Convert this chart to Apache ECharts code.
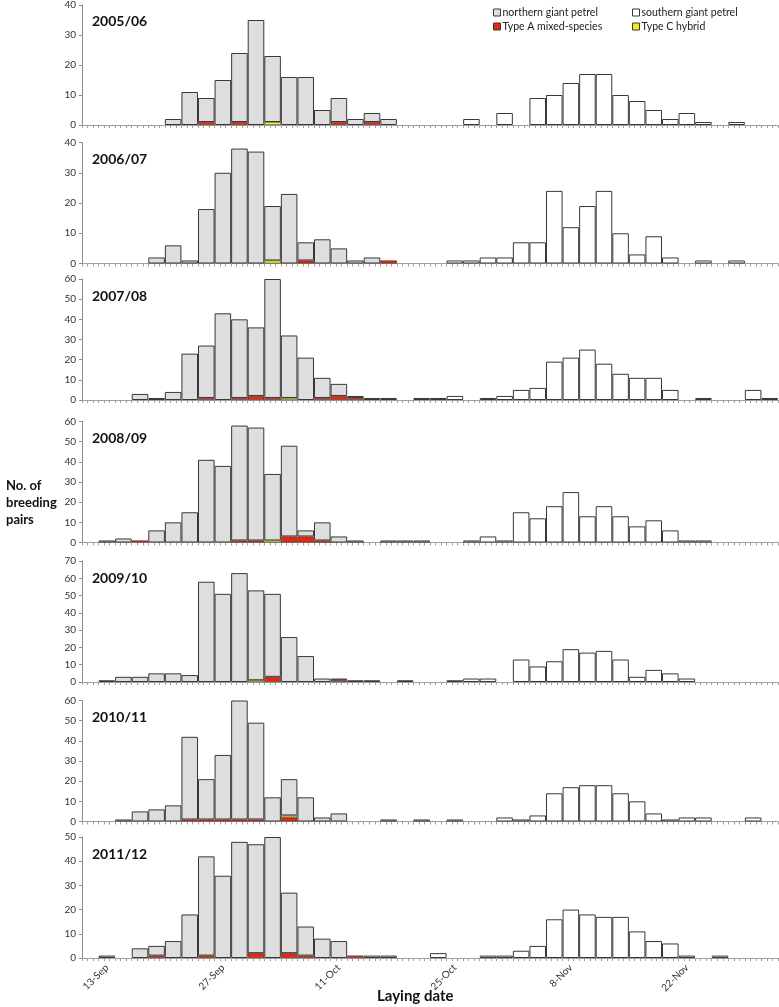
<!DOCTYPE html>
<html>
<head>
<meta charset="utf-8">
<title>Giant petrel laying dates</title>
<script src="https://cdn.jsdelivr.net/npm/echarts@6.0.0/dist/echarts.min.js"></script>
<style>
  html, body { margin: 0; padding: 0; background: #fff; }
  #chart { width: 779px; height: 1007px; }
</style>
</head>
<body>
<div id="chart"></div>
<script>
// Laying date histograms, two-day bins starting 11-Sep (bin 1 = 13-Sep)
// -----------------------------------------
const SEASONS = ['2005/06', '2006/07', '2007/08', '2008/09', '2009/10', '2010/11', '2011/12'];
const Y_MAX = [40, 40, 60, 60, 70, 60, 50];
const DATE_LABELS = ['13-Sep', '27-Sep', '11-Oct', '25-Oct', '8-Nov', '22-Nov'];
const BIN_COUNT = 42;

// northern giant petrel (grey part of the bar)
const ngp0506 = [0,0,0,0,0,2,11, 8,15,23,35,22,16,16, 5,8,2,3,2,0,0, 0,0,0,0,0,0,0, 0,0,0,0,0,0,0, 0,0,0,0,0,0,0];
const ngp0607 = [0,0,0,0,2,6,1, 18,30,38,37,18,23,6, 8,5,1,2,0,0,0, 0,0,0,0,0,0,0, 0,0,0,0,0,0,0, 0,0,0,0,0,0,0];
const ngp0708 = [0,0,0,3,1,4,23, 26,43,39,34,59,31,21, 10,6,1,1,1,0,1, 1,0,0,0,0,0,0, 0,0,0,0,0,0,0, 0,0,0,0,0,0,0];
const ngp0809 = [0,1,2,0,6,10,15, 41,38,57,56,33,45,3, 9,3,1,0,1,1,1, 0,0,0,0,0,0,0, 0,0,0,0,0,0,0, 0,0,0,0,0,0,0];
const ngp0910 = [0,1,3,3,5,5,4, 58,51,63,52,48,26,15, 2,1,1,1,0,1,0, 0,0,0,0,0,0,0, 0,0,0,0,0,0,0, 0,0,0,0,0,0,0];
const ngp1011 = [0,0,1,5,6,8,41, 20,32,59,48,12,18,12, 2,4,0,0,1,0,1, 0,1,0,0,0,0,0, 0,0,0,0,0,0,0, 0,0,0,0,0,0,0];
const ngp1112 = [0,1,0,4,4,7,18, 41,34,48,45,50,25,12, 8,7,0,1,1,0,0, 0,0,0,0,0,0,0, 0,0,0,0,0,0,0, 0,0,0,0,0,0,0];

// Type A mixed-species pairs
const mixA0506 = [0,0,0,0,0,0,0, 1,0,1,0,0,0,0, 0,1,0,1,0,0,0, 0,0,0,0,0,0,0, 0,0,0,0,0,0,0, 0,0,0,0,0,0,0];
const mixA0607 = [0,0,0,0,0,0,0, 0,0,0,0,0,0,1, 0,0,0,0,1,0,0, 0,0,0,0,0,0,0, 0,0,0,0,0,0,0, 0,0,0,0,0,0,0];
const mixA0708 = [0,0,0,0,0,0,0, 1,0,1,2,1,0,0, 1,2,1,0,0,0,0, 0,0,0,0,0,0,0, 0,0,0,0,0,0,0, 0,0,0,0,0,0,0];
const mixA0809 = [0,0,0,1,0,0,0, 0,0,1,1,0,3,3, 1,0,0,0,0,0,0, 0,0,0,0,0,0,0, 0,0,0,0,0,0,0, 0,0,0,0,0,0,0];
const mixA0910 = [0,0,0,0,0,0,0, 0,0,0,0,3,0,0, 0,1,0,0,0,0,0, 0,0,0,0,0,0,0, 0,0,0,0,0,0,0, 0,0,0,0,0,0,0];
const mixA1011 = [0,0,0,0,0,0,1, 1,1,1,1,0,2,0, 0,0,0,0,0,0,0, 0,0,0,0,0,0,0, 0,0,0,0,0,0,0, 0,0,0,0,0,0,0];
const mixA1112 = [0,0,0,0,1,0,0, 1,0,0,2,0,2,1, 0,0,1,0,0,0,0, 0,0,0,0,0,0,0, 0,0,0,0,0,0,0, 0,0,0,0,0,0,0];

// Type C hybrids
const hybC0506 = [0,0,0,0,0,0,0, 0,0,0,0,1,0,0, 0,0,0,0,0,0,0, 0,0,0,0,0,0,0, 0,0,0,0,0,0,0, 0,0,0,0,0,0,0];
const hybC0607 = [0,0,0,0,0,0,0, 0,0,0,0,1,0,0, 0,0,0,0,0,0,0, 0,0,0,0,0,0,0, 0,0,0,0,0,0,0, 0,0,0,0,0,0,0];
const hybC0708 = [0,0,0,0,0,0,0, 0,0,0,0,0,1,0, 0,0,0,0,0,0,0, 0,0,0,0,0,0,0, 0,0,0,0,0,0,0, 0,0,0,0,0,0,0];
const hybC0809 = [0,0,0,0,0,0,0, 0,0,0,0,1,0,0, 0,0,0,0,0,0,0, 0,0,0,0,0,0,0, 0,0,0,0,0,0,0, 0,0,0,0,0,0,0];
const hybC0910 = [0,0,0,0,0,0,0, 0,0,0,1,0,0,0, 0,0,0,0,0,0,0, 0,0,0,0,0,0,0, 0,0,0,0,0,0,0, 0,0,0,0,0,0,0];
const hybC1011 = [0,0,0,0,0,0,0, 0,0,0,0,0,1,0, 0,0,0,0,0,0,0, 0,0,0,0,0,0,0, 0,0,0,0,0,0,0, 0,0,0,0,0,0,0];
const hybC1112 = [0,0,0,0,0,0,0, 0,0,0,0,0,0,0, 0,0,0,0,0,0,0, 0,0,0,0,0,0,0, 0,0,0,0,0,0,0, 0,0,0,0,0,0,0];

// southern giant petrel (white bars)
const sgp0506 = [0,0,0,0,0,0,0, 0,0,0,0,0,0,0, 0,0,0,0,0,0,0, 0,0,2,0,4,0,9, 10,14,17,17,10,8,5, 2,4,1,0,1,0,0];
const sgp0607 = [0,0,0,0,0,0,0, 0,0,0,0,0,0,0, 0,0,0,0,0,0,0, 0,1,1,2,2,7,7, 24,12,19,24,10,3,9, 2,0,1,0,1,0,0];
const sgp0708 = [0,0,0,0,0,0,0, 0,0,0,0,0,0,0, 0,0,0,0,0,0,0, 0,2,0,1,2,5,6, 19,21,25,18,13,11,11, 5,0,1,0,0,5,1];
const sgp0809 = [0,0,0,0,0,0,0, 0,0,0,0,0,0,0, 0,0,0,0,0,0,0, 0,0,1,3,1,15,12, 18,25,13,18,13,8,11, 6,1,1,0,0,0,0];
const sgp0910 = [0,0,0,0,0,0,0, 0,0,0,0,0,0,0, 0,0,0,0,0,0,0, 0,1,2,2,0,13,9, 12,19,17,18,13,3,7, 5,2,0,0,0,0,0];
const sgp1011 = [0,0,0,0,0,0,0, 0,0,0,0,0,0,0, 0,0,0,0,0,0,0, 0,0,0,0,2,1,3, 14,17,18,18,14,10,4, 1,2,2,0,0,2,0];
const sgp1112 = [0,0,0,0,0,0,0, 0,0,0,0,0,0,0, 0,0,0,0,0,0,0, 2,0,0,1,1,3,5, 16,20,18,17,17,11,7, 6,1,0,1,0,0,0];

const NGP = [ngp0506, ngp0607, ngp0708, ngp0809, ngp0910, ngp1011, ngp1112];
const MIX_A = [mixA0506, mixA0607, mixA0708, mixA0809, mixA0910, mixA1011, mixA1112];
const HYB_C = [hybC0506, hybC0607, hybC0708, hybC0809, hybC0910, hybC1011, hybC1112];
const SGP = [sgp0506, sgp0607, sgp0708, sgp0809, sgp0910, sgp1011, sgp1112];

// -----------------------------------------
// LAYOUT
// -----------------------------------------
const PLOT_LEFT = 82;
const PLOT_RIGHT = 1;
const PANEL_TOP = [4, 142.5, 279, 421.5, 561, 700.5, 837];
const PANEL_H = 121;
const FONT = 'Lato, "Open Sans", sans-serif';

const COLORS = {
  ngp: '#dedede',
  sgp: '#ffffff',
  mixA: '#e8260e',
  hybC: '#f7ea1a',
  edge: '#383838'
};

const binNames = [];
for (let i = 0; i < BIN_COUNT; i++) binNames.push('');
DATE_LABELS.forEach((lbl, k) => { binNames[1 + 7 * k] = lbl; });

// three tick marks per bin
const tickNames = [];
for (let i = 0; i < BIN_COUNT * 3; i++) tickNames.push(String(i));

const blank = arr => arr.map(v => (v === 0 ? '-' : v));

const grids = [];
const xAxes = [];
const yAxes = [];
const titles = [];
const series = [];

SEASONS.forEach((season, p) => {
  const last = p === SEASONS.length - 1;
  grids.push({ left: PLOT_LEFT, right: PLOT_RIGHT, top: PANEL_TOP[p], height: PANEL_H });

  // bin axis (used by the bars, carries the date labels on the bottom panel)
  xAxes.push({
    type: 'category',
    gridIndex: p,
    position: 'bottom',
    data: binNames,
    boundaryGap: true,
    axisLine: { show: false },
    axisTick: { show: false },
    axisLabel: {
      show: last,
      interval: 0,
      rotate: 45,
      fontSize: 10,
      color: '#333',
      fontFamily: FONT,
      margin: 8
    }
  });

  // tick axis (three marks per bin along the baseline)
  xAxes.push({
    type: 'category',
    gridIndex: p,
    position: 'bottom',
    data: tickNames,
    boundaryGap: true,
    axisLine: { show: true, onZero: false, lineStyle: { color: '#a0a0a0', width: 1 } },
    axisTick: { show: true, interval: 0, length: 3, lineStyle: { color: '#a0a0a0' } },
    axisLabel: { show: false }
  });

  yAxes.push({
    type: 'value',
    gridIndex: p,
    min: 0,
    max: Y_MAX[p],
    interval: 10,
    splitLine: { show: false },
    axisLine: { show: true, lineStyle: { color: '#8c8c8c' } },
    axisTick: { show: true, length: 3, lineStyle: { color: '#8c8c8c' } },
    axisLabel: { fontSize: 10, color: '#333', fontFamily: FONT, margin: 6 }
  });

  titles.push({
    text: season,
    left: 92,
    top: PANEL_TOP[p] + 10,
    padding: 0,
    textStyle: { fontSize: 14, fontWeight: 'bold', color: '#111', fontFamily: FONT }
  });

  const base = {
    type: 'bar',
    xAxisIndex: p * 2,
    yAxisIndex: p,
    stack: 'season' + p,
    barCategoryGap: '0%',
    barGap: '0%',
    silent: true,
    animation: false
  };

  series.push(Object.assign({}, base, {
    name: 'Type A mixed-species',
    data: blank(MIX_A[p]),
    itemStyle: { color: COLORS.mixA, borderColor: COLORS.edge, borderWidth: 0.6 }
  }));
  series.push(Object.assign({}, base, {
    name: 'Type C hybrid',
    data: blank(HYB_C[p]),
    itemStyle: { color: COLORS.hybC, borderColor: COLORS.edge, borderWidth: 0.6 }
  }));
  series.push(Object.assign({}, base, {
    name: 'northern giant petrel',
    data: blank(NGP[p]),
    itemStyle: { color: COLORS.ngp, borderColor: COLORS.edge, borderWidth: 1 }
  }));
  series.push(Object.assign({}, base, {
    name: 'southern giant petrel',
    data: blank(SGP[p]),
    itemStyle: { color: COLORS.sgp, borderColor: COLORS.edge, borderWidth: 1 }
  }));
});

const legendBase = {
  orient: 'vertical',
  top: 7,
  icon: 'rect',
  itemWidth: 7,
  itemHeight: 7,
  itemGap: 3,
  padding: 0,
  selectedMode: false,
  textStyle: { fontSize: 10.5, color: '#222', fontFamily: FONT, padding: [0, 0, 0, -3] },
  itemStyle: { borderColor: COLORS.edge, borderWidth: 1 }
};

const option = {
  backgroundColor: '#fff',
  animation: false,
  title: titles,
  legend: [
    Object.assign({}, legendBase, { left: 493, data: ['northern giant petrel', 'Type A mixed-species'] }),
    Object.assign({}, legendBase, { left: 632, data: ['southern giant petrel', 'Type C hybrid'] })
  ],
  grid: grids,
  xAxis: xAxes,
  yAxis: yAxes,
  series: series,
  graphic: [
    {
      type: 'text',
      left: 6,
      top: 477,
      style: {
        text: 'No. of\nbreeding\npairs',
        align: 'center',
        x: 30,
        lineHeight: 17,
        fill: '#111',
        font: 'bold 13px Lato, sans-serif'
      }
    },
    {
      type: 'text',
      left: 377,
      top: 989,
      style: {
        text: 'Laying date',
        fill: '#111',
        font: 'bold 15px Lato, sans-serif'
      }
    }
  ]
};

const chart = echarts.init(document.getElementById('chart'), null, { renderer: 'canvas' });
chart.setOption(option);
</script>
</body>
</html>
